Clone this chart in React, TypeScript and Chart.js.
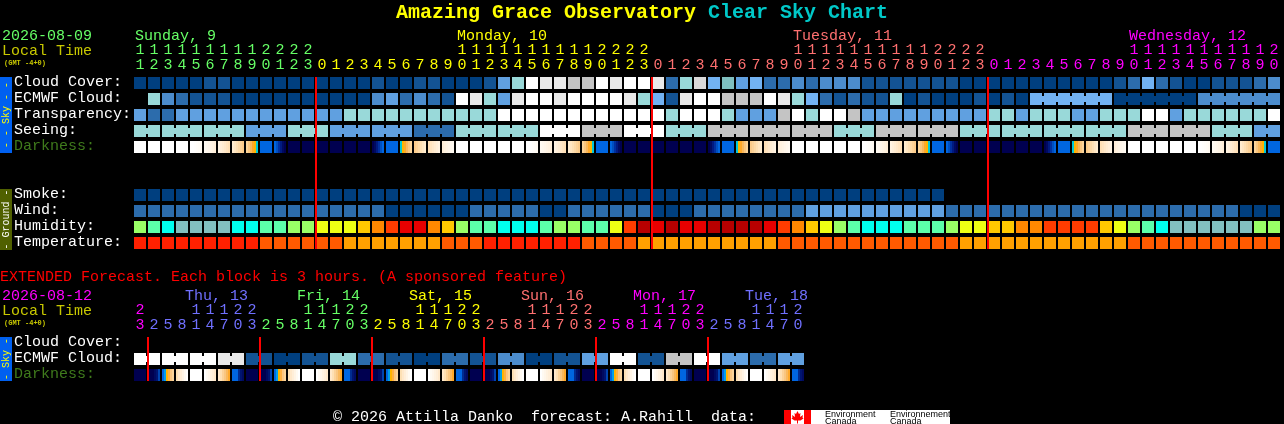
import React, { useEffect, useRef } from "react";
import { Chart, registerables } from "chart.js";

Chart.register(...registerables);

// ---------- data ----------
const mainHours = [11,12,13,14,15,16,17,18,19,20,21,22,23,
  0,1,2,3,4,5,6,7,8,9,10,11,12,13,14,15,16,17,18,19,20,21,22,23,
  0,1,2,3,4,5,6,7,8,9,10,11,12,13,14,15,16,17,18,19,20,21,22,23,
  0,1,2,3,4,5,6,7,8,9,10,11,12,13,14,15,16,17,18,19,20];
const extHours = [23,
  2,5,8,11,14,17,20,23, 2,5,8,11,14,17,20,23, 2,5,8,11,14,17,20,23,
  2,5,8,11,14,17,20,23, 2,5,8,11,14,17,20,23, 2,5,8,11,14,17,20];

const cloudCover = [0,0,0,0,0,1,1,0,0,0,0,0,0,0,0,0,0,1,0,0,1,
  1,0,0,0,1,4,6,8,9,9,11,11,8,9,8,8,9,2,6,10,5,7,4,5,2,2,3,2,3,3,3,
  1,1,1,1,1,1,1,0,0,0,0,0,0,0,0,0,0,0,1,2,5,2,1,0,0,1,1,1,2,3];
const ecmwfCloud = [null,6,3,2,1,1,1,0,0,0,0,0,0,0,0,0,0,3,4,2,3,
  2,1,8,9,6,4,9,8,8,9,8,8,8,8,9,6,5,1,9,8,8,11,11,11,8,9,6,5,2,1,2,
  1,1,6,0,1,0,0,0,1,0,1,0,5,5,5,5,5,5,0,0,0,0,0,0,3,3,3,3,3,3];
const ecmwfRuns = [[64, 6], [70, 6], [76, 6]];
const transparency = [4,2,2,4,4,4,4,4,4,4,4,4,4,4,4,6,6,6,6,6,6,
  6,6,6,6,6,8,8,8,8,8,8,8,8,8,8,8,8,6,8,8,8,6,4,4,4,11,8,6,8,8,11,
  4,4,4,4,4,4,4,4,4,6,6,4,6,6,6,4,4,6,6,6,8,8,4,6,6,6,6,6,6,8];
const seeing = [6,6,6,6,6,6,6,6,4,4,4,6,6,6,4,4,4,4,4,4,2,2,2,
  6,6,6,6,6,6,8,8,8,11,11,11,8,8,8,6,6,6,11,11,11,11,11,11,11,11,11,6,6,6,
  11,11,11,11,11,11,6,6,6,6,6,6,6,6,6,6,6,6,11,11,11,11,11,11,6,6,6,4,4];
const seeingRuns = [[0,2],[2,3],[5,3],[8,3],[11,3],[14,3],[17,3],[20,3],[23,3],[26,3],[29,3],[32,3],
  [35,3],[38,3],[41,3],[44,3],[47,3],[50,3],[53,3],[56,3],[59,3],[62,3],[65,3],[68,3],[71,3],[74,3],[77,3],[80,2]];
const darkness = ["W","W","W","W","a","b","c","d","S","B","F","N","N","N","N","N","N","G","B","R","e",
  "f","g","W","W","W","W","W","a","b","c","d","S","B","F","N","N","N","N","N","N","G","B","R","e","f","g",
  "W","W","W","W","W","a","b","c","d","S","B","F","N","N","N","N","N","N","G","B","R","e","f","g","W","W","W","W","W","a","b","c","d","S","B"];
const smoke = [0,0,0,0,0,0,0,0,0,0,0,0,0,0,0,0,0,0,0,0,0,0,0,0,0,0,0,0,0,
  0,0,0,0,0,0,0,0,0,0,0,0,0,0,0,0,0,0,0,0,0,0,0,0,0,0,0,0,0];
const wind = [2,2,2,2,2,2,2,2,2,2,2,2,2,2,2,2,2,2,0,0,0,
  0,0,0,2,2,2,2,2,0,0,2,2,2,2,2,2,0,0,0,2,2,2,2,2,2,2,2,4,4,4,4,
  4,4,4,4,4,4,2,2,2,2,2,2,2,2,2,2,2,2,2,2,2,2,2,2,2,2,2,0,0,0];
const humidity = ["L","M","C","T","T","T","T","C","C","M","M","L","L","Y","Y","Y","A","O","X","R","R",
  "O","A","L","M","M","C","C","C","M","L","L","M","M","Y","X","D","R","D","R","R","D","D","D","D","R","X","O","A","Y","L","M",
  "C","C","C","M","M","M","L","Y","Y","A","A","O","O","X","X","X","X","A","Y","L","M","C","T","T","T","T","T","T","L","L"];
const temperature = ["r","r","r","r","r","r","r","r","r","s","s","s","s","s","s","o","o","o","o","o","o",
  "o","s","s","s","r","r","r","r","r","r","r","s","s","s","s","o","o","o","o","o","o","o","o","o","o","s","s","s","s","s","s",
  "s","s","s","s","s","s","s","o","o","o","o","o","o","o","o","o","o","o","o","s","s","s","s","s","s","s","s","s","s","s"];
const extEcmwfBlocks = [8,8,8,9,1,0,1,6,2,1,0,2,1,3,0,1,4,8,1,11,8,4,2,4];
const extDarkness = [
  "N","k","T","h","W","i","j","l","N","k","T","h","W","i","j","l","N","k","T","h","W","i","j","l",
  "N","k","T","h","W","i","j","l","N","k","T","h","W","i","j","l","N","k","T","h","W","i","j","l"];

const levelColors = ["#003f7f","#135393","#2c6cac","#4c8ccc","#60a0e0","#72b2f2","#99d9d9","#7fbfbf","#ffffff","#e9e9e9","#d9d9d9","#c4c4c4"];
const humidityColors: Record<string,string> = { L:"#99ff66", M:"#5cffaa", C:"#00ffee", T:"#82bfbf", Y:"#eeff14", A:"#ffc800", O:"#ff8800", X:"#ff3c00", R:"#e80000", D:"#b80000" };
const temperatureColors: Record<string,string> = { r:"#ff2000", s:"#ff5a00", o:"#ffa000" };
const darknessStrips: Record<string,string[]> = {
  W:["#ffffff","#ffffff","#ffffff","#ffffff","#ffffff","#ffffff"],
  a:["#ffffff","#ffffff","#fffefc","#fffdf9","#fffcf6","#fffaf2"],
  b:["#fffaf2","#fff8ee","#fff6ea","#fff4e5","#fff2e0","#ffeed8"],
  c:["#fff3e2","#ffefda","#ffecd2","#ffe8ca","#ffe4c0","#ffe0b6"],
  d:["#ffeccf","#ffe6c2","#fee0b4","#fdd9a6","#fcd298","#fbcb8a"],
  S:["#fbd49a","#f9c680","#f9b85c","#ffa92a","#ffb400","#00c8d8"],
  B:["#0066e0","#0066e0","#0066e0","#0066e0","#0066e0","#0066e0"],
  F:["#0066e0","#0050c0","#0030a0","#001a80","#000a60","#000050"],
  N:["#000050","#000050","#000050","#000050","#000050","#000050"],
  G:["#000050","#000a60","#001a80","#0030a0","#0050c0","#0066e0"],
  R:["#00c8d8","#ffb400","#ffa92a","#f9b85c","#f9c680","#fbd49a"],
  e:["#fbcb8a","#fcd298","#fdd9a6","#fee0b4","#ffe6c2","#ffeccf"],
  f:["#ffe0b6","#ffe4c0","#ffe8ca","#ffecd2","#ffefda","#fff3e2"],
  g:["#ffeed8","#fff2e0","#fff4e5","#fff6ea","#fff8ee","#fffaf2"],
  T:["#0066e0","#00a0e8","#ffb400","#ffb040","#fbc680","#fbd49a"],
  h:["#fde0b4","#ffe8ca","#ffeed8","#fff4e5","#fffaf2","#ffffff"],
  i:["#ffffff","#fffaf2","#fff6ea","#fff2e0","#ffeed8","#ffe8ca"],
  j:["#ffe8ca","#fee0b4","#fcd298","#f9c680","#f9b85c","#ffa92a"],
  k:["#000050","#000050","#000050","#000a60","#001470","#0044b0"],
  l:["#0066e0","#0066e0","#0066e0","#002c90","#001470","#000a60"],
};

const mainRowLabels = ["Cloud Cover:","ECMWF Cloud:","Transparency:","Seeing:","Darkness:","","","Smoke:","Wind:","Humidity:","Temperature:"];
const extRowLabels = ["Cloud Cover:","ECMWF Cloud:","Darkness:"];
const mainMidnights = [13, 37, 61];
const extMidnights = [1, 9, 17, 25, 33, 41];

const GREEN = "#66ff66", YELLOW = "#ffff00", SALMON = "#ff7070", MAGENTA = "#ff00ff", BLUE = "#7070ff";
const mainDayStarts: [number,string][] = [[0,GREEN],[13,YELLOW],[37,SALMON],[61,MAGENTA]];
const extDayStarts: [number,string][] = [[0,MAGENTA],[1,BLUE],[9,GREEN],[17,YELLOW],[25,SALMON],[33,MAGENTA],[41,BLUE]];

// ---------- layout ----------
const MONO = "'Liberation Mono', monospace";
const FONT = `15px ${MONO}`;
const PITCH = 14;
const HALF = 6 / PITCH;
const CELL_RATIO = 12 / 16;
const LINK_RATIO = 6 / 16;

type T = { t: string; x: number; y: number; c: string; f?: string };
const mainTexts: T[] = [
  { t: "Amazing Grace Observatory", x: 396, y: 18, c: "#ffff00", f: `bold 20px ${MONO}` },
  { t: "Clear Sky Chart", x: 708, y: 18, c: "#00c8c8", f: `bold 20px ${MONO}` },
  { t: "2026-08-09", x: 2, y: 40, c: GREEN },
  { t: "Local Time", x: 2, y: 55, c: "#c8c800" },
  { t: "(GMT -4+0)", x: 4, y: 65, c: "#c8c800", f: `bold 7px ${MONO}` },
  { t: "Sunday, 9", x: 135, y: 40, c: GREEN },
  { t: "Monday, 10", x: 457, y: 40, c: YELLOW },
  { t: "Tuesday, 11", x: 793, y: 40, c: SALMON },
  { t: "Wednesday, 12", x: 1129, y: 40, c: MAGENTA },
];
const extOffset = 260;
const extTexts: T[] = [
  { t: "EXTENDED Forecast. Each block is 3 hours. (A sponsored feature)", x: 0, y: 281 - extOffset, c: "#ff0000" },
  { t: "2026-08-12", x: 2, y: 300 - extOffset, c: MAGENTA },
  { t: "Local Time", x: 2, y: 315 - extOffset, c: "#c8c800" },
  { t: "(GMT -4+0)", x: 4, y: 325 - extOffset, c: "#c8c800", f: `bold 7px ${MONO}` },
  { t: "Thu, 13", x: 185, y: 300 - extOffset, c: BLUE },
  { t: "Fri, 14", x: 297, y: 300 - extOffset, c: GREEN },
  { t: "Sat, 15", x: 409, y: 300 - extOffset, c: YELLOW },
  { t: "Sun, 16", x: 521, y: 300 - extOffset, c: SALMON },
  { t: "Mon, 17", x: 633, y: 300 - extOffset, c: MAGENTA },
  { t: "Tue, 18", x: 745, y: 300 - extOffset, c: BLUE },
  { t: "\u00a9 2026 Attilla Danko  forecast: A.Rahill  data:", x: 333, y: 421 - extOffset, c: "#ffffff" },
];

type Strip = { top: number; bottom: number; bg: string; fg: string; text: string };
const mainStrips: Strip[] = [
  { top: 77, bottom: 153, bg: "#0060f0", fg: "#ffff00", text: "- - Sky - -" },
  { top: 189, bottom: 250, bg: "#506000", fg: "#ffffff", text: "- Ground -" },
];
const extStrips: Strip[] = [{ top: 337 - extOffset, bottom: 381 - extOffset, bg: "#0060f0", fg: "#ffff00", text: "- Sky -" }];

function decorPlugin(texts: T[], strips: Strip[], logo: boolean) {
  return {
    id: "decor",
    afterDraw(chart: any) {
      const ctx = chart.ctx as CanvasRenderingContext2D;
      ctx.save();
      ctx.textBaseline = "alphabetic";
      ctx.textAlign = "left";
      for (const s of strips) {
        ctx.fillStyle = s.bg;
        ctx.fillRect(0, s.top, 12, s.bottom - s.top);
        ctx.save();
        ctx.translate(6, (s.top + s.bottom) / 2);
        ctx.rotate(-Math.PI / 2);
        ctx.fillStyle = s.fg;
        ctx.font = `10px ${MONO}`;
        ctx.textAlign = "center";
        ctx.textBaseline = "middle";
        ctx.fillText(s.text, 0, 0);
        ctx.restore();
      }
      for (const t of texts) {
        ctx.fillStyle = t.c;
        ctx.font = t.f || FONT;
        ctx.fillText(t.t, t.x, t.y);
      }
      if (logo) {
        const top = 410 - extOffset;
        ctx.fillStyle = "#ffffff";
        ctx.fillRect(784, top, 166, 14);
        ctx.fillStyle = "#ff0000";
        ctx.fillRect(784, top, 7, 14);
        ctx.fillRect(804, top, 7, 14);
        const cx = 797.5, cy = top + 7;
        const leaf = [[0,-6],[1.5,-3],[3,-4],[2.5,0],[5.5,-2],[5,0.5],[6,1.5],[3,3.5],[0.5,3.5],[0.5,6.5],[-0.5,6.5],[-0.5,3.5],[-3,3.5],[-6,1.5],[-5,0.5],[-5.5,-2],[-2.5,0],[-3,-4],[-1.5,-3]];
        ctx.beginPath();
        leaf.forEach(([a, b], i) => (i ? ctx.lineTo(cx + a, cy + b) : ctx.moveTo(cx + a, cy + b)));
        ctx.closePath();
        ctx.fill();
        ctx.fillStyle = "#000000";
        ctx.font = "9px 'Liberation Sans', sans-serif";
        ctx.fillText("Environment", 825, top + 7);
        ctx.fillText("Canada", 825, top + 14);
        ctx.fillText("Environnement", 890, top + 7);
        ctx.fillText("Canada", 890, top + 14);
      }
      ctx.restore();
    },
  };
}

// ---------- dataset helpers ----------
function cellDataset(row: number, values: any[], color: (v: any) => string) {
  const cells = values.map((v, c) => ({ v, c })).filter((d) => d.v !== null);
  return {
    type: "bar",
    grouped: false,
    order: 1,
    barPercentage: 1,
    categoryPercentage: CELL_RATIO,
    borderWidth: 0,
    data: cells.map((d) => ({ x: [d.c - HALF, d.c + HALF], y: row })),
    backgroundColor: cells.map((d) => color(d.v)),
  };
}
function linkDataset(row: number, values: number[], runs: number[][]) {
  const links: { c: number; v: number }[] = [];
  for (const [start, len] of runs) for (let c = start; c < start + len - 1; c++) links.push({ c, v: values[c] });
  return {
    type: "bar",
    grouped: false,
    order: 1,
    barPercentage: 1,
    categoryPercentage: LINK_RATIO,
    borderWidth: 0,
    data: links.map((d) => ({ x: [d.c + HALF, d.c + 1 - HALF], y: row })),
    backgroundColor: links.map((d) => levelColors[d.v]),
  };
}
function darknessDataset(row: number, cells: string[]) {
  const slices: { x: number[]; y: number }[] = [];
  const colors: string[] = [];
  cells.forEach((k, c) => {
    darknessStrips[k].forEach((col, i) => {
      const w = (HALF * 2) / 6;
      slices.push({ x: [c - HALF + i * w, c - HALF + (i + 1) * w], y: row });
      colors.push(col);
    });
  });
  return {
    type: "bar", grouped: false, order: 1, barPercentage: 1, categoryPercentage: CELL_RATIO,
    borderWidth: 0, data: slices, backgroundColor: colors,
  };
}
function midnightDataset(col: number, yMin: number, yMax: number) {
  return {
    type: "line", indexAxis: "y", order: 0, borderColor: "#ff0000", borderWidth: 2, pointRadius: 0, fill: false,
    data: [{ x: col - HALF, y: yMin }, { x: col - HALF, y: yMax }],
  };
}
const level = (v: number) => levelColors[v];
const hourLines = (h: number) => (h < 10 ? ["", String(h)] : [String(h)[0], String(h)[1]]);
const dayColor = (starts: [number,string][], c: number) => {
  let col = starts[0][1];
  for (const [s, k] of starts) if (c >= s) col = k;
  return col;
};

function makeChart(canvas: HTMLCanvasElement, cfg: {
  datasets: any[]; hours: number[]; dayStarts: [number,string][]; rowLabels: string[]; rows: number[];
  yMin: number; yMax: number; bottomPad: number; plugin: any;
}) {
  return new Chart(canvas, {
    type: "bar",
    data: { datasets: cfg.datasets },
    plugins: [cfg.plugin],
    options: {
      animation: false,
      responsive: false,
      devicePixelRatio: 1,
      indexAxis: "y",
      layout: { padding: { left: 14, right: 2, top: 0, bottom: cfg.bottomPad } },
      plugins: { legend: { display: false }, tooltip: { enabled: false }, title: { display: false } },
      scales: {
        x: {
          type: "linear",
          position: "top",
          min: -HALF,
          max: 82 - HALF,
          grid: { display: false, drawTicks: false },
          border: { display: false },
          afterBuildTicks: (s: any) => { s.ticks = cfg.hours.map((_, i) => ({ value: i })); },
          afterFit: (s: any) => { s.height = 77; s.paddingLeft = 0; s.paddingRight = 0; },
          ticks: {
            autoSkip: false,
            maxRotation: 0,
            minRotation: 0,
            padding: 4,
            font: { family: MONO, size: 15, lineHeight: 1 },
            color: (c: any) => dayColor(cfg.dayStarts, c.tick.value),
            callback: (v: any) => hourLines(cfg.hours[v]),
          },
        },
        y: {
          type: "linear",
          reverse: true,
          offset: false,
          min: cfg.yMin,
          max: cfg.yMax,
          grid: { display: false, drawTicks: false, offset: false },
          border: { display: false },
          afterBuildTicks: (s: any) => { s.ticks = cfg.rows.map((r) => ({ value: r })); },
          afterFit: (s: any) => { s.width = 120; s.paddingTop = 0; s.paddingBottom = 0; },
          ticks: {
            autoSkip: false,
            crossAlign: "far",
            labelOffset: -1,
            font: { family: MONO, size: 15, lineHeight: 1 },
            color: (c: any) => (cfg.rowLabels[c.tick.value] === "Darkness:" ? "#3f7a1c" : "#ffffff"),
            callback: (v: any) => cfg.rowLabels[v],
          },
        },
      },
    } as any,
  } as any);
}

export default function App() {
  const mainRef = useRef<HTMLCanvasElement>(null);
  const extRef = useRef<HTMLCanvasElement>(null);
  useEffect(() => {
    const yMinMain = -0.375, yMaxMain = 10.375;
    const main = makeChart(mainRef.current!, {
      hours: mainHours,
      dayStarts: mainDayStarts,
      rowLabels: mainRowLabels,
      rows: [0, 1, 2, 3, 4, 7, 8, 9, 10],
      yMin: yMinMain,
      yMax: yMaxMain,
      bottomPad: 11,
      plugin: decorPlugin(mainTexts, mainStrips, false),
      datasets: [
        ...mainMidnights.map((c) => midnightDataset(c, yMinMain, yMaxMain)),
        cellDataset(0, cloudCover, level),
        cellDataset(1, ecmwfCloud, level),
        linkDataset(1, ecmwfCloud as number[], ecmwfRuns),
        cellDataset(2, transparency, level),
        cellDataset(3, seeing, level),
        linkDataset(3, seeing, seeingRuns),
        darknessDataset(4, darkness),
        cellDataset(7, smoke, level),
        cellDataset(8, wind, level),
        cellDataset(9, humidity, (k) => humidityColors[k]),
        cellDataset(10, temperature, (k) => temperatureColors[k]),
      ],
    });
    const extYMin = -0.375, extYMax = 2.375;
    const extEcmwf = extEcmwfBlocks.flatMap((v) => [v, v]);
    const extRuns = extEcmwfBlocks.map((_, i) => [i * 2, 2]);
    const ext = makeChart(extRef.current!, {
      hours: extHours,
      dayStarts: extDayStarts,
      rowLabels: extRowLabels,
      rows: [0, 1, 2],
      yMin: extYMin,
      yMax: extYMax,
      bottomPad: 43,
      plugin: decorPlugin(extTexts, extStrips, true),
      datasets: [
        ...extMidnights.map((c) => midnightDataset(c, extYMin, extYMax)),
        cellDataset(1, extEcmwf, level),
        linkDataset(1, extEcmwf, extRuns),
        darknessDataset(2, extDarkness),
      ],
    });
    return () => { main.destroy(); ext.destroy(); };
  }, []);
  return (
    <div style={{ position: "relative", width: 1284, height: 424, background: "#000", overflow: "hidden" }}>
      <style>{"html,body{margin:0;padding:0;background:#000;overflow:hidden}"}</style>
      <canvas ref={mainRef} width={1284} height={260} style={{ position: "absolute", left: 0, top: 0, width: 1284, height: 260 }} />
      <canvas ref={extRef} width={1284} height={164} style={{ position: "absolute", left: 0, top: 260, width: 1284, height: 164 }} />
    </div>
  );
}
